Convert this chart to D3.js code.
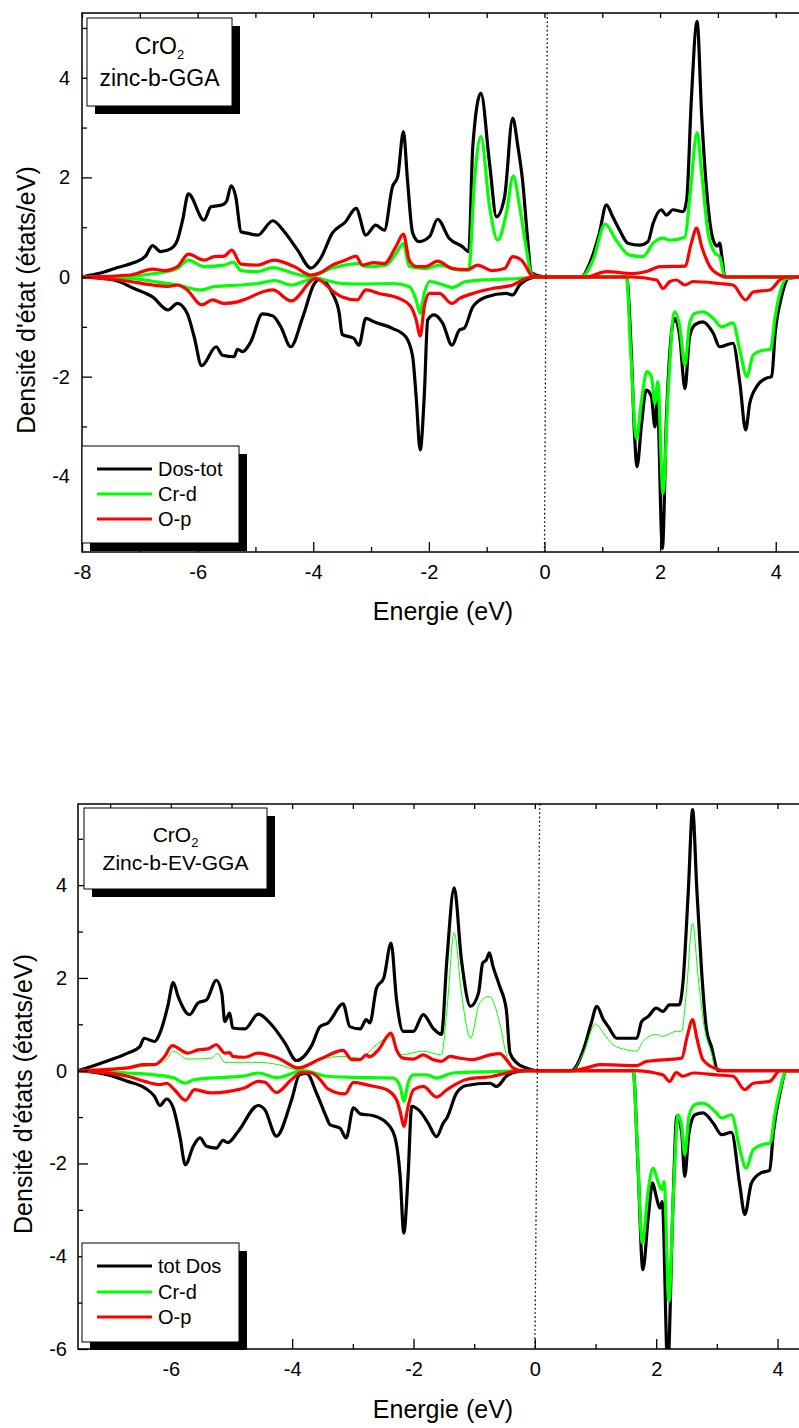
<!DOCTYPE html>
<html>
<head>
<meta charset="utf-8">
<script src="https://cdn.jsdelivr.net/npm/d3@7"></script>
<style>
  body { margin: 0; background: #fff; }
  svg { display: block; font-family: "Liberation Sans", Arial, sans-serif; }
</style>
</head>
<body>
<div id="chart"></div>
<script>
// data: [energy (eV), DOS (states/eV)]
// panel 1 : CrO2 zinc-b-GGA
const ggaTotUp = [[-8,0],[-7.85,0.04],[-7.68,0.08],[-7.39,0.19],[-7.10,0.29],[-6.90,0.42],[-6.78,0.63],[-6.64,0.51],[-6.46,0.57],[-6.35,0.74],[-6.26,1.14],[-6.16,1.67],[-5.89,1.14],[-5.77,1.41],[-5.57,1.45],[-5.50,1.52],[-5.42,1.83],[-5.34,1.61],[-5.25,0.91],[-5.14,0.88],[-4.96,0.84],[-4.70,1.13],[-4.50,0.91],[-4.27,0.54],[-4.04,0.18],[-3.87,0.38],[-3.67,0.88],[-3.44,1.11],[-3.26,1.38],[-3.09,0.84],[-2.92,1.04],[-2.77,0.94],[-2.63,1.81],[-2.54,2.01],[-2.44,2.92],[-2.37,1.95],[-2.28,0.88],[-2.17,0.71],[-1.99,0.81],[-1.85,1.16],[-1.65,0.78],[-1.42,0.61],[-1.31,0.51],[-1.24,2.62],[-1.10,3.69],[-0.95,2.28],[-0.83,1.21],[-0.69,1.61],[-0.55,3.19],[-0.46,2.62],[-0.38,1.95],[-0.29,0.74],[-0.23,0.09],[-0.03,0.01],[0.64,0],[0.78,0.27],[0.95,0.88],[1.07,1.45],[1.18,1.21],[1.30,0.94],[1.44,0.68],[1.65,0.64],[1.79,0.71],[1.88,1.08],[2.02,1.35],[2.11,1.24],[2.22,1.35],[2.40,1.31],[2.46,1.55],[2.54,3.55],[2.64,5.13],[2.72,3.22],[2.80,1.81],[2.92,0.74],[2.99,0.62],[3.03,0.68],[3.07,0.40],[3.12,0],[4.42,0]]
const ggaCrdUp = [[-8,0],[-7.16,0.02],[-6.75,0.07],[-6.35,0.17],[-6.16,0.34],[-5.89,0.21],[-5.54,0.24],[-5.38,0.30],[-5.25,0.13],[-4.96,0.11],[-4.70,0.19],[-4.33,0.07],[-4.05,0.01],[-3.67,0.18],[-3.21,0.27],[-3.09,0.21],[-2.74,0.24],[-2.57,0.47],[-2.44,0.67],[-2.34,0.21],[-2.05,0.17],[-1.82,0.24],[-1.47,0.14],[-1.31,0.14],[-1.21,1.95],[-1.10,2.82],[-0.95,1.41],[-0.81,0.74],[-0.66,1.28],[-0.54,2.03],[-0.43,1.41],[-0.32,0.61],[-0.23,0.07],[-0.10,0],[0.64,0],[0.84,0.34],[1.05,1.06],[1.24,0.74],[1.47,0.44],[1.70,0.41],[1.88,0.68],[2.05,0.78],[2.17,0.74],[2.43,0.80],[2.51,1.55],[2.64,2.90],[2.72,2.08],[2.83,0.88],[2.95,0.48],[3.03,0.41],[3.12,0],[4.42,0]]
const ggaOpUp = [[-8,0],[-7.16,0.04],[-6.78,0.16],[-6.58,0.13],[-6.35,0.21],[-6.16,0.46],[-5.89,0.34],[-5.71,0.41],[-5.54,0.42],[-5.41,0.54],[-5.25,0.26],[-4.96,0.24],[-4.68,0.34],[-4.33,0.21],[-4.04,0.04],[-3.87,0.09],[-3.67,0.24],[-3.44,0.34],[-3.26,0.42],[-3.15,0.24],[-2.95,0.29],[-2.77,0.27],[-2.57,0.61],[-2.44,0.86],[-2.34,0.34],[-2.22,0.21],[-2.05,0.21],[-1.85,0.32],[-1.59,0.17],[-1.33,0.15],[-1.16,0.24],[-0.90,0.13],[-0.69,0.17],[-0.55,0.41],[-0.40,0.34],[-0.32,0.21],[-0.23,0.04],[-0.10,0],[0.72,0],[1.07,0.11],[1.53,0.07],[1.76,0.11],[2.00,0.21],[2.43,0.22],[2.54,0.68],[2.63,0.98],[2.72,0.61],[2.86,0.21],[3.03,0.04],[3.15,0],[4.42,0]]
const ggaTotDn = [[-8,0],[-7.45,-0.06],[-7.10,-0.23],[-6.78,-0.40],[-6.51,-0.66],[-6.35,-0.53],[-6.18,-0.73],[-6.06,-1.20],[-5.93,-1.78],[-5.68,-1.40],[-5.57,-1.57],[-5.37,-1.60],[-5.31,-1.45],[-5.22,-1.50],[-5.08,-1.30],[-4.88,-0.74],[-4.70,-0.78],[-4.56,-1.00],[-4.39,-1.40],[-4.18,-0.80],[-3.98,-0.13],[-3.87,-0.04],[-3.67,-0.33],[-3.55,-0.73],[-3.50,-1.15],[-3.30,-1.23],[-3.21,-1.37],[-3.09,-0.83],[-2.95,-0.90],[-2.63,-1.03],[-2.40,-1.20],[-2.28,-1.60],[-2.22,-2.40],[-2.15,-3.47],[-2.08,-2.40],[-2.02,-0.86],[-1.91,-0.76],[-1.76,-0.93],[-1.60,-1.37],[-1.47,-1.06],[-1.39,-1.03],[-1.24,-0.60],[-1.01,-0.40],[-0.66,-0.33],[-0.55,-0.36],[-0.43,-0.16],[-0.26,-0.03],[-0.10,0],[1.42,0],[1.50,-1.47],[1.56,-3.21],[1.60,-3.81],[1.68,-2.94],[1.76,-2.27],[1.85,-2.40],[1.91,-3.01],[1.95,-2.47],[2.04,-5.45],[2.11,-2.81],[2.25,-0.83],[2.34,-1.20],[2.43,-2.24],[2.51,-1.20],[2.60,-0.96],[2.74,-0.90],[2.92,-1.13],[3.03,-1.40],[3.26,-1.33],[3.38,-2.13],[3.48,-3.07],[3.55,-2.54],[3.67,-2.20],[3.84,-2.03],[3.93,-2.00],[3.99,-1.13],[4.10,-0.40],[4.22,-0.03],[4.42,0]]
const ggaCrdDn = [[-8,0],[-7.16,-0.03],[-6.75,-0.09],[-6.35,-0.16],[-5.94,-0.26],[-5.71,-0.19],[-5.25,-0.16],[-4.96,-0.13],[-4.67,-0.07],[-4.38,-0.16],[-3.98,-0.03],[-3.50,-0.13],[-3.21,-0.14],[-2.63,-0.13],[-2.34,-0.19],[-2.22,-0.46],[-2.15,-0.73],[-2.08,-0.33],[-1.99,-0.09],[-1.82,-0.13],[-1.59,-0.21],[-1.36,-0.09],[-0.90,-0.05],[-0.43,-0.03],[-0.20,0],[1.42,0],[1.49,-1.47],[1.59,-3.24],[1.68,-2.47],[1.77,-1.90],[1.85,-2.00],[1.91,-2.54],[1.96,-2.10],[2.05,-4.34],[2.14,-2.27],[2.25,-0.70],[2.34,-1.00],[2.43,-1.77],[2.51,-0.93],[2.60,-0.73],[2.74,-0.70],[2.92,-0.83],[3.06,-1.00],[3.26,-0.92],[3.38,-1.47],[3.50,-2.00],[3.61,-1.57],[3.78,-1.47],[3.91,-1.45],[3.99,-0.80],[4.07,-0.33],[4.19,-0.03],[4.42,0]]
const ggaOpDn = [[-8,0],[-7.16,-0.09],[-6.78,-0.16],[-6.51,-0.19],[-6.35,-0.16],[-6.18,-0.26],[-5.93,-0.56],[-5.74,-0.46],[-5.54,-0.53],[-5.31,-0.50],[-5.14,-0.43],[-4.88,-0.30],[-4.70,-0.26],[-4.38,-0.48],[-3.96,-0.03],[-3.61,-0.33],[-3.50,-0.40],[-3.24,-0.46],[-3.09,-0.26],[-2.86,-0.33],[-2.51,-0.43],[-2.31,-0.60],[-2.22,-0.86],[-2.15,-1.18],[-2.08,-0.60],[-1.99,-0.33],[-1.82,-0.33],[-1.60,-0.53],[-1.47,-0.43],[-1.24,-0.33],[-0.90,-0.23],[-0.55,-0.16],[-0.38,-0.06],[-0.20,0],[1.50,0],[1.94,-0.06],[2.05,-0.23],[2.17,-0.09],[2.28,-0.06],[2.43,-0.16],[2.57,-0.09],[3.03,-0.13],[3.26,-0.16],[3.48,-0.46],[3.61,-0.30],[3.90,-0.26],[4.07,-0.06],[4.19,0],[4.42,0]]

// panel 2 : CrO2 Zinc-b-EV-GGA
const evTotUp = [[-7.53,0],[-7.31,0.09],[-6.98,0.24],[-6.71,0.38],[-6.51,0.52],[-6.44,0.70],[-6.27,0.63],[-6.16,0.88],[-6.05,1.39],[-5.96,1.90],[-5.88,1.60],[-5.69,1.21],[-5.55,1.46],[-5.41,1.53],[-5.25,1.95],[-5.16,1.67],[-5.11,1.06],[-5.03,1.24],[-4.98,0.92],[-4.78,0.90],[-4.56,1.22],[-4.34,0.99],[-4.12,0.60],[-3.93,0.22],[-3.68,0.54],[-3.54,0.95],[-3.41,1.03],[-3.16,1.44],[-3.05,0.95],[-2.88,0.90],[-2.78,1.10],[-2.72,1.03],[-2.61,1.78],[-2.49,2.00],[-2.37,2.75],[-2.28,1.53],[-2.17,0.85],[-2.00,0.85],[-1.84,1.21],[-1.68,0.92],[-1.54,0.78],[-1.45,2.39],[-1.33,3.94],[-1.21,2.39],[-1.06,1.39],[-0.93,1.67],[-0.86,2.32],[-0.80,2.39],[-0.75,2.54],[-0.69,2.25],[-0.58,1.82],[-0.47,1.31],[-0.41,0.38],[-0.30,0.17],[-0.14,0.06],[0.05,0],[0.60,0],[0.80,0.45],[0.93,1.03],[1.02,1.39],[1.13,1.10],[1.21,0.95],[1.35,0.70],[1.51,0.70],[1.68,0.70],[1.76,1.06],[1.87,1.17],[2.00,1.35],[2.11,1.28],[2.22,1.42],[2.38,1.42],[2.44,1.89],[2.53,3.90],[2.60,5.63],[2.67,3.90],[2.75,2.11],[2.83,0.88],[2.91,0.52],[3.02,0],[4.37,0]]
const evCrdUp = [[-7.53,0],[-6.71,0.06],[-6.27,0.13],[-6.07,0.24],[-5.96,0.42],[-5.72,0.25],[-5.33,0.27],[-5.23,0.37],[-5.11,0.18],[-4.56,0.18],[-4.23,0.13],[-3.90,0.02],[-3.54,0.24],[-3.16,0.31],[-2.88,0.27],[-2.61,0.56],[-2.37,0.74],[-2.22,0.34],[-1.84,0.42],[-1.54,0.34],[-1.45,1.31],[-1.33,2.98],[-1.21,1.67],[-1.06,0.70],[-0.91,1.46],[-0.75,1.60],[-0.58,1.03],[-0.47,0.34],[-0.38,0.06],[-0.20,0],[0.60,0],[0.80,0.38],[1.00,1.01],[1.13,0.81],[1.29,0.56],[1.51,0.45],[1.68,0.42],[1.78,0.63],[2.00,0.78],[2.11,0.74],[2.33,0.85],[2.42,0.85],[2.50,1.75],[2.60,3.18],[2.69,2.03],[2.80,0.88],[2.91,0.38],[2.99,0],[4.37,0]]
const evOpUp = [[-7.53,0],[-6.71,0.06],[-6.46,0.13],[-6.27,0.13],[-6.10,0.31],[-5.98,0.54],[-5.72,0.38],[-5.55,0.45],[-5.39,0.47],[-5.25,0.56],[-5.11,0.38],[-5.03,0.39],[-4.98,0.31],[-4.78,0.29],[-4.56,0.38],[-4.23,0.27],[-3.90,0.06],[-3.54,0.25],[-3.16,0.44],[-3.02,0.24],[-2.88,0.24],[-2.78,0.34],[-2.72,0.30],[-2.58,0.45],[-2.37,0.81],[-2.28,0.45],[-2.17,0.27],[-2.00,0.25],[-1.84,0.34],[-1.68,0.24],[-1.54,0.20],[-1.40,0.31],[-1.24,0.27],[-1.02,0.24],[-0.74,0.34],[-0.58,0.37],[-0.47,0.24],[-0.36,0.06],[-0.20,0],[0.60,0],[0.85,0.06],[1.07,0.13],[1.68,0.11],[1.84,0.20],[2.42,0.27],[2.51,0.74],[2.60,1.10],[2.67,0.70],[2.77,0.24],[2.99,0.04],[3.10,0],[4.37,0]]
const evTotDn = [[-7.53,0],[-7.03,-0.09],[-6.71,-0.23],[-6.43,-0.37],[-6.27,-0.55],[-6.18,-0.75],[-6.07,-0.61],[-5.96,-0.80],[-5.85,-1.42],[-5.76,-2.03],[-5.63,-1.63],[-5.52,-1.45],[-5.41,-1.63],[-5.25,-1.67],[-5.14,-1.50],[-5.06,-1.55],[-4.89,-1.31],[-4.56,-0.75],[-4.45,-0.84],[-4.26,-1.41],[-4.01,-0.63],[-3.88,-0.09],[-3.76,-0.06],[-3.60,-0.48],[-3.43,-1.02],[-3.38,-1.16],[-3.21,-1.24],[-3.11,-1.45],[-2.99,-0.80],[-2.88,-0.93],[-2.66,-0.97],[-2.44,-1.13],[-2.31,-1.42],[-2.22,-2.28],[-2.16,-3.50],[-2.09,-2.28],[-2.03,-0.77],[-1.89,-0.88],[-1.76,-1.13],[-1.62,-1.42],[-1.51,-1.13],[-1.45,-1.02],[-1.29,-0.48],[-1.13,-0.32],[-0.74,-0.27],[-0.63,-0.34],[-0.47,-0.12],[-0.30,-0.02],[-0.10,0],[1.62,0],[1.70,-2.06],[1.78,-4.29],[1.87,-3.14],[1.94,-2.42],[2.00,-2.71],[2.06,-2.96],[2.10,-2.82],[2.19,-6.40],[2.27,-3.14],[2.34,-0.98],[2.42,-1.34],[2.47,-2.28],[2.54,-1.34],[2.64,-0.95],[2.77,-0.91],[2.94,-1.13],[3.08,-1.38],[3.24,-1.33],[3.38,-2.49],[3.46,-3.10],[3.57,-2.42],[3.73,-2.20],[3.87,-2.15],[3.93,-1.34],[4.04,-0.48],[4.15,0],[4.37,0]]
const evCrdDn = [[-7.53,0],[-6.71,-0.05],[-6.27,-0.09],[-5.94,-0.16],[-5.77,-0.27],[-5.61,-0.19],[-5.06,-0.14],[-4.78,-0.11],[-4.56,-0.05],[-4.26,-0.15],[-3.82,0],[-3.43,-0.12],[-3.10,-0.14],[-2.33,-0.16],[-2.22,-0.34],[-2.16,-0.66],[-2.09,-0.27],[-2.00,-0.09],[-1.78,-0.09],[-1.62,-0.16],[-1.35,-0.05],[-0.69,-0.02],[-0.20,0],[1.62,0],[1.69,-1.70],[1.77,-3.71],[1.87,-2.56],[1.95,-2.10],[2.03,-2.39],[2.09,-2.56],[2.13,-2.39],[2.21,-4.97],[2.28,-2.78],[2.36,-0.95],[2.42,-1.20],[2.47,-1.81],[2.54,-0.98],[2.64,-0.73],[2.77,-0.70],[2.97,-0.88],[3.08,-1.02],[3.24,-0.95],[3.38,-1.70],[3.48,-2.10],[3.60,-1.70],[3.76,-1.59],[3.88,-1.56],[3.95,-0.98],[4.04,-0.41],[4.15,0],[4.37,0]]
const evOpDn = [[-7.53,0],[-6.71,-0.12],[-6.43,-0.23],[-6.18,-0.30],[-6.07,-0.27],[-5.94,-0.41],[-5.76,-0.64],[-5.61,-0.41],[-5.33,-0.48],[-5.06,-0.45],[-4.78,-0.37],[-4.56,-0.23],[-4.45,-0.25],[-4.26,-0.47],[-4.01,-0.19],[-3.85,-0.04],[-3.68,-0.05],[-3.54,-0.19],[-3.41,-0.39],[-3.13,-0.50],[-2.99,-0.25],[-2.72,-0.32],[-2.44,-0.41],[-2.28,-0.63],[-2.22,-0.88],[-2.16,-1.20],[-2.09,-0.77],[-2.00,-0.41],[-1.84,-0.34],[-1.62,-0.57],[-1.45,-0.41],[-1.13,-0.19],[-0.69,-0.12],[-0.47,-0.05],[-0.20,0],[1.62,0],[2.11,-0.09],[2.22,-0.23],[2.33,-0.04],[2.44,-0.12],[2.61,-0.05],[2.99,-0.09],[3.27,-0.12],[3.46,-0.41],[3.60,-0.27],[3.87,-0.23],[4.04,0],[4.37,0]]

// tick values and labels
const xMajor1 = [-8, -6, -4, -2, 0, 2, 4]
const xMinor1 = [-7, -5, -3, -1, 1, 3]
const xMajor2 = [-6, -4, -2, 0, 2, 4]
const xMinor2 = [-7, -5, -3, -1, 1, 3]
const yMajor1 = [-4, -2, 0, 2, 4]
const yMinor1 = [-5, -3, -1, 1, 3, 5]
const yMajor2 = [-6, -4, -2, 0, 2, 4]
const yMinor2 = [-5, -3, -1, 1, 3, 5]
const legend1 = ['Dos-tot', 'Cr-d', 'O-p']
const legend2 = ['tot Dos', 'Cr-d', 'O-p']
const colors = ['#000000', '#00ff00', '#ff0000']

const svg = d3.select('#chart').append('svg')
  .attr('width', 799)
  .attr('height', 1428)

function panel (o) {
  const x = d3.scaleLinear().domain(o.xDomain).range([o.left, o.right])
  const y = d3.scaleLinear().domain(o.yDomain).range([o.bottom, o.top])
  const g = svg.append('g')

  const clipId = 'clip' + o.id
  g.append('clipPath').attr('id', clipId)
    .append('rect')
    .attr('x', o.left).attr('y', o.top)
    .attr('width', o.right - o.left).attr('height', o.bottom - o.top)

  // curves
  const line = d3.line().x(d => x(d[0])).y(d => y(d[1])).curve(d3.curveMonotoneX)
  const plot = g.append('g').attr('clip-path', `url(#${clipId})`)
  o.series.forEach(s => {
    plot.append('path')
      .attr('d', line(s.data))
      .attr('fill', 'none')
      .attr('stroke', s.color)
      .attr('stroke-width', s.width)
      .attr('stroke-linejoin', 'round')
  })

  // Fermi level
  g.append('line')
    .attr('x1', x(o.fermiTop)).attr('y1', o.top)
    .attr('x2', x(0)).attr('y2', o.bottom)
    .attr('stroke', '#000')
    .attr('stroke-width', 1.3)
    .attr('stroke-dasharray', '1.6,2.6')

  // axes
  const axes = [
    [d3.axisBottom(x).tickValues(o.xMajor).tickSize(-10).tickPadding(13).tickFormat(d3.format('d')), `translate(0,${o.bottom})`],
    [d3.axisBottom(x).tickValues(o.xMinor).tickSize(-5).tickFormat(''), `translate(0,${o.bottom})`],
    [d3.axisTop(x).tickValues(o.xMajor.concat(o.xMinor)).tickSize(-5).tickFormat(''), `translate(0,${o.top})`],
    [d3.axisLeft(y).tickValues(o.yMajor).tickSize(-10).tickPadding(o.yPad).tickFormat(d3.format('d')), `translate(${o.left},0)`],
    [d3.axisLeft(y).tickValues(o.yMinor).tickSize(-5).tickFormat(''), `translate(${o.left},0)`]
  ]
  axes.forEach(a => {
    const ax = g.append('g').attr('transform', a[1]).call(a[0].tickSizeOuter(0))
    ax.select('.domain').remove()
    ax.selectAll('line').attr('stroke', '#000').attr('stroke-width', 1.3)
    ax.selectAll('text').attr('font-size', 20).attr('fill', '#000')
      .attr('font-family', '"Liberation Sans", Arial, sans-serif')
      .text(function (d) { return d3.select(this).text().replace('−', '-') })
  })

  // frame
  g.append('rect')
    .attr('x', o.left).attr('y', o.top)
    .attr('width', o.right - o.left).attr('height', o.bottom - o.top)
    .attr('fill', 'none').attr('stroke', '#000').attr('stroke-width', 1.5)

  // axis titles
  g.append('text')
    .attr('x', 443).attr('y', o.xTitleY)
    .attr('text-anchor', 'middle').attr('font-size', 25)
    .text('Energie (eV)')
  g.append('text')
    .attr('transform', `translate(${o.yTitleX},${o.yTitleY}) rotate(-90)`)
    .attr('text-anchor', 'middle').attr('font-size', 25)
    .text(o.yTitle)

  // title box
  const tb = o.titleBox
  g.append('rect').attr('x', tb[0] + 8).attr('y', tb[1] + 8)
    .attr('width', tb[2] - tb[0]).attr('height', tb[3] - tb[1]).attr('fill', '#000')
  g.append('rect').attr('x', tb[0]).attr('y', tb[1])
    .attr('width', tb[2] - tb[0]).attr('height', tb[3] - tb[1])
    .attr('fill', '#fff').attr('stroke', '#000').attr('stroke-width', 1)
  const cx = (tb[0] + tb[2]) / 2
  const t1 = g.append('text').attr('x', cx).attr('y', o.titleY[0])
    .attr('text-anchor', 'middle').attr('font-size', o.titleSize)
  t1.append('tspan').text('CrO')
  t1.append('tspan').attr('font-size', 13).attr('dy', 5).text('2')
  g.append('text').attr('x', cx).attr('y', o.titleY[1])
    .attr('text-anchor', 'middle').attr('font-size', o.titleSize)
    .text(o.title)

  // legend
  const lb = o.legendBox
  g.append('rect').attr('x', lb[0] + 8).attr('y', lb[1] + 8)
    .attr('width', lb[2] - lb[0]).attr('height', lb[3] - lb[1]).attr('fill', '#000')
  g.append('rect').attr('x', lb[0]).attr('y', lb[1])
    .attr('width', lb[2] - lb[0]).attr('height', lb[3] - lb[1])
    .attr('fill', '#fff').attr('stroke', '#000').attr('stroke-width', 1)
  o.legend.forEach((name, i) => {
    const ly = o.legendY[i]
    g.append('line').attr('x1', 97).attr('x2', 152).attr('y1', ly).attr('y2', ly)
      .attr('stroke', colors[i]).attr('stroke-width', 3.2)
    g.append('text').attr('x', 158).attr('y', ly + 7).attr('font-size', 20).text(name)
  })
}

panel({
  id: 1,
  left: 82, right: 800, top: 13, bottom: 552,
  xDomain: [-8, 4.42], yDomain: [-5.52, 5.3],
  xMajor: xMajor1, xMinor: xMinor1,
  yMajor: yMajor1, yMinor: yMinor1, yPad: 12,
  fermiTop: 0.05,
  xTitleY: 620, yTitleX: 35, yTitleY: 300,
  yTitle: 'Densité d\'état (états/eV)',
  titleBox: [87, 18, 232, 106], titleY: [54, 86], title: 'zinc-b-GGA', titleSize: 23,
  legendBox: [82, 446, 239, 543], legendY: [469, 494, 519], legend: legend1,
  series: [
    { data: ggaTotUp, color: colors[0], width: 3.2 },
    { data: ggaTotDn, color: colors[0], width: 3.2 },
    { data: ggaCrdUp, color: colors[1], width: 3.2 },
    { data: ggaCrdDn, color: colors[1], width: 3.2 },
    { data: ggaOpUp, color: colors[2], width: 3.2 },
    { data: ggaOpDn, color: colors[2], width: 3.2 }
  ]
})

panel({
  id: 2,
  left: 78, right: 800, top: 804, bottom: 1349,
  xDomain: [-7.53, 4.37], yDomain: [-6, 5.75],
  xMajor: xMajor2, xMinor: xMinor2,
  yMajor: yMajor2, yMinor: yMinor2, yPad: 11,
  fermiTop: 0.08,
  xTitleY: 1418, yTitleX: 32, yTitleY: 1094,
  yTitle: 'Densité d\'états (états/eV)',
  titleBox: [84, 808, 267, 889], titleY: [842, 870], title: 'Zinc-b-EV-GGA', titleSize: 21,
  legendBox: [82, 1243, 239, 1342], legendY: [1266, 1292, 1317], legend: legend2,
  series: [
    { data: evTotUp, color: colors[0], width: 3.2 },
    { data: evTotDn, color: colors[0], width: 3.2 },
    { data: evCrdUp, color: colors[1], width: 1 },
    { data: evCrdDn, color: colors[1], width: 3.2 },
    { data: evOpUp, color: colors[2], width: 3.2 },
    { data: evOpDn, color: colors[2], width: 3.2 }
  ]
})
</script>
</body>
</html>
